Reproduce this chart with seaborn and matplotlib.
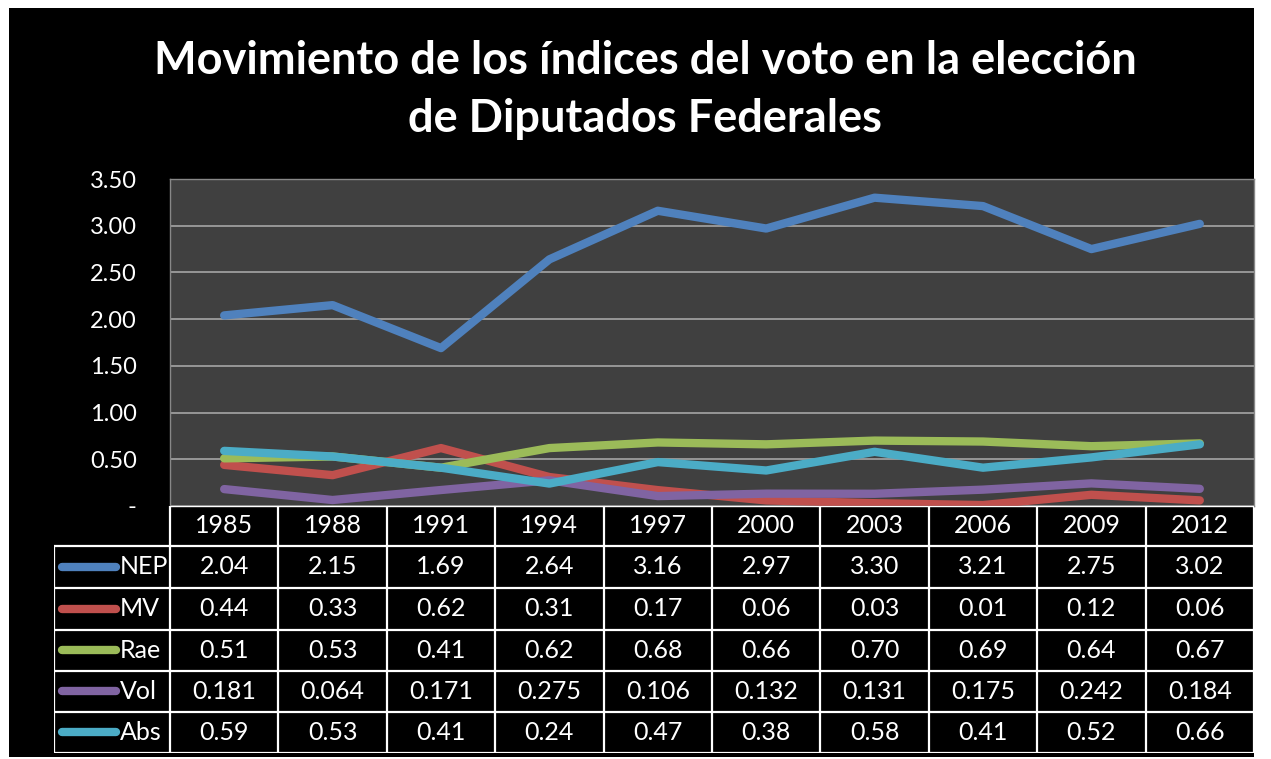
import numpy as np
import pandas as pd
import matplotlib
matplotlib.use("Agg")
import matplotlib.pyplot as plt
import seaborn as sns

years = ["1985", "1988", "1991", "1994", "1997", "2000", "2003", "2006", "2009", "2012"]
series_names = ["NEP", "MV", "Rae", "Vol", "Abs"]
nep = [2.04, 2.15, 1.69, 2.64, 3.16, 2.97, 3.30, 3.21, 2.75, 3.02]
mv = [0.44, 0.33, 0.62, 0.31, 0.17, 0.06, 0.03, 0.01, 0.12, 0.06]
rae = [0.51, 0.53, 0.41, 0.62, 0.68, 0.66, 0.70, 0.69, 0.64, 0.67]
vol = [0.181, 0.064, 0.171, 0.275, 0.106, 0.132, 0.131, 0.175, 0.242, 0.184]
abs_ = [0.59, 0.53, 0.41, 0.24, 0.47, 0.38, 0.58, 0.41, 0.52, 0.66]
table_labels = [
    ["2.04", "2.15", "1.69", "2.64", "3.16", "2.97", "3.30", "3.21", "2.75", "3.02"],
    ["0.44", "0.33", "0.62", "0.31", "0.17", "0.06", "0.03", "0.01", "0.12", "0.06"],
    ["0.51", "0.53", "0.41", "0.62", "0.68", "0.66", "0.70", "0.69", "0.64", "0.67"],
    ["0.181", "0.064", "0.171", "0.275", "0.106", "0.132", "0.131", "0.175", "0.242", "0.184"],
    ["0.59", "0.53", "0.41", "0.24", "0.47", "0.38", "0.58", "0.41", "0.52", "0.66"],
]
yticks = [0, 0.5, 1.0, 1.5, 2.0, 2.5, 3.0, 3.5]
ytick_labels = ["-", "0.50", "1.00", "1.50", "2.00", "2.50", "3.00", "3.50"]
colors = ["#4F81BD", "#C0504D", "#9BBB59", "#8064A2", "#4BACC6"]

values = [nep, mv, rae, vol, abs_]
df = pd.DataFrame({
    "x": np.tile(np.arange(len(years)), len(series_names)),
    "value": np.concatenate(values),
    "serie": np.repeat(series_names, len(years)),
})

sns.set_style("dark")
plt.rcParams["font.family"] = ["Lato", "DejaVu Sans"]

W, H = 1271, 759
fig = plt.figure(figsize=(W / 100, H / 100), dpi=100, facecolor="white")

def fx(px):
    return px / W

def fy(py):
    return 1 - py / H

# black chart area with white margin
bg = fig.add_axes([fx(9), fy(757), fx(1254 - 9), fy(8) - fy(757)])
bg.set_facecolor("black")
bg.set_xticks([])
bg.set_yticks([])
for s in bg.spines.values():
    s.set_visible(False)

# plot area
pl, pr, pt, pb = 170, 1254, 179, 506
ax = fig.add_axes([fx(pl), fy(pb), fx(pr - pl), fy(pt) - fy(pb)])
ax.set_facecolor("#404040")
sns.lineplot(data=df, x="x", y="value", hue="serie", palette=colors,
             linewidth=6, legend=False, ax=ax, sort=False,
             solid_capstyle="round", solid_joinstyle="round")
ax.set_xlim(-0.5, len(years) - 0.5)
ax.set_ylim(0, 3.5)
ax.set_yticks(yticks)
ax.set_yticklabels(ytick_labels, color="white", fontsize=17)
ax.set_xticks([])
ax.set_xlabel("")
ax.set_ylabel("")
ax.tick_params(axis="y", length=0, pad=24)
ax.grid(axis="y", color="#A6A6A6", linewidth=1.2)
ax.grid(axis="x", visible=False)
for s in ax.spines.values():
    s.set_color("#888888")
    s.set_linewidth(1)

# data table below
tl, tr, tt, tb = 54, 1254, 506, 753
tax = fig.add_axes([fx(tl), fy(tb), fx(tr - tl), fy(tt) - fy(tb)])
tax.set_facecolor("black")
tax.set_xlim(tl, tr)
tax.set_ylim(tb, tt)
tax.axis("off")
col_w = (pr - pl) / len(years)
row_edges = [506, 546, 588, 630, 671, 712, 753]
lc = "white"
lw = 1.6
# header row
tax.plot([pl, pr], [row_edges[0], row_edges[0]], color=lc, lw=lw)
for i in range(len(years) + 1):
    x = pl + i * col_w
    tax.plot([x, x], [row_edges[0], row_edges[-1]], color=lc, lw=lw)
for j, y in enumerate(row_edges[1:]):
    tax.plot([tl, pr], [y, y], color=lc, lw=lw)
tax.plot([tl, tl], [row_edges[1], row_edges[-1]], color=lc, lw=lw)
for i, yr in enumerate(years):
    tax.text(pl + (i + 0.5) * col_w, (row_edges[0] + row_edges[1]) / 2, yr,
             color="white", fontsize=18, ha="center", va="center")
for r, name in enumerate(series_names):
    yc = (row_edges[r + 1] + row_edges[r + 2]) / 2
    tax.plot([tl + 8, tl + 62], [yc, yc], color=colors[r], lw=6,
             solid_capstyle="round")
    tax.text(tl + 66, yc, name, color="white", fontsize=18, ha="left", va="center")
    for i, lab in enumerate(table_labels[r]):
        tax.text(pl + (i + 0.5) * col_w, yc, lab, color="white", fontsize=18,
                 ha="center", va="center")

fig.text(fx(645), fy(90), "Movimiento de los índices del voto en la elección\nde Diputados Federales",
         color="white", fontsize=32.5, fontweight="bold", ha="center", va="center",
         linespacing=1.5)

fig.savefig("out.png", dpi=100, facecolor=fig.get_facecolor())
